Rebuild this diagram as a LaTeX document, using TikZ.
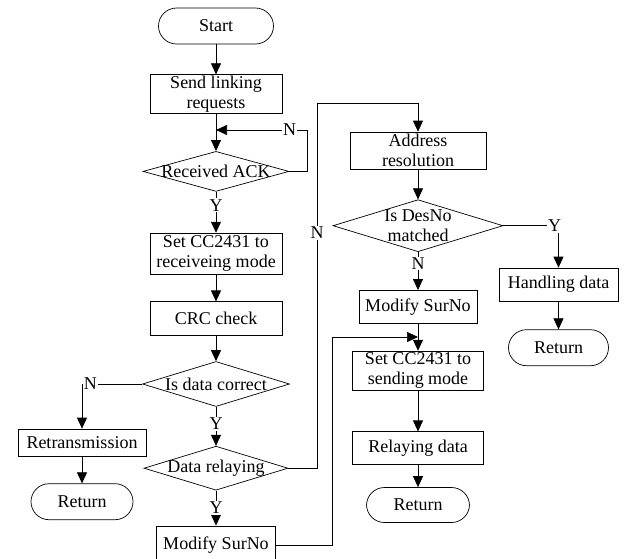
\documentclass[tikz,border=0pt]{standalone}
\usepackage{fontspec}
\setmainfont{Liberation Serif}
\usetikzlibrary{arrows.meta, positioning, shapes.geometric}

\begin{document}
\begin{tikzpicture}[
  x=1pt, y=-1pt,
  font=\fontsize{18}{20}\selectfont,
  proc/.style={draw, line width=0.7pt, minimum width=132pt, minimum height=38pt,
               align=center, inner sep=0pt},
  term/.style={proc, rounded corners=18pt, minimum width=102pt, minimum height=36pt},
  decide/.style={draw, diamond, line width=0.7pt, inner sep=0pt},
  lbl/.style={fill=white, inner sep=1pt},
  arr/.style={-{Triangle[length=11pt, width=10pt]}, line width=0.7pt},
  node distance=30pt
]
  \useasboundingbox (0,0) rectangle (625,558);

  % left / main column
  \node[term, minimum width=115pt] (start) at (216,26) {Start};
  \node[proc, minimum height=39pt, below=30pt of start] (link) {Send linking\\requests};
  \node[decide, minimum width=146pt, minimum height=40pt, below=37pt of link,
        label=center:Received ACK] (ack) {};
  \node[proc, minimum height=41pt, below=41pt of ack] (recv) {Set CC2431 to\\receiveing mode};
  \node[proc, minimum height=34pt, below=27pt of recv] (crc) {CRC check};
  \node[decide, minimum width=147pt, minimum height=45pt, below=25pt of crc,
        label=center:Is data correct] (correct) {};
  \node[decide, minimum width=144pt, minimum height=44pt, below=39pt of correct,
        label=center:Data relaying] (relay) {};
  \node[proc, minimum width=119pt, minimum height=38pt, below=35pt of relay] (modL) {Modify SurNo};

  \node[proc, minimum width=128pt, minimum height=27pt] (retrans) at (82,442.5) {Retransmission};
  \node[term, below=27pt of retrans] (retL) {Return};

  % middle column
  \node[proc, minimum width=136pt, minimum height=37pt] (addr) at (418,150.5) {Address\\resolution};
  \node[decide, minimum width=170pt, minimum height=52pt, below=30pt of addr,
        label={[align=center]center:Is DesNo\\matched}] (desno) {};
  \node[proc, minimum width=118pt, minimum height=33pt, below=38pt of desno] (modR) {Modify SurNo};
  \node[proc, minimum width=131pt, minimum height=39pt, below=27pt of modR] (sendm) {Set CC2431 to\\sending mode};
  \node[proc, minimum width=131pt, minimum height=33pt, below=41pt of sendm] (relaying) {Relaying data};
  \node[term, minimum width=103pt, minimum height=35pt, below=22pt of relaying] (retM) {Return};

  % right column
  \node[proc, minimum width=119pt, minimum height=33pt] (handle) at (558.5,284.5) {Handling data};
  \node[term, minimum width=100pt, below=28pt of handle] (retR) {Return};

  \coordinate (ackN) at (307,130);
  \coordinate (relN) at (317,103);
  \coordinate (modN) at (332,337);

  \draw[arr] (start) -- (link);
  \draw[arr] (link) -- (ack);
  \draw[arr] (ack.east) -| (ackN) -- node[lbl, pos=.19]{N} (link.south |- ackN);
  \draw[arr] (ack) -- node[lbl, pos=.33]{Y} (recv);
  \draw[arr] (recv) -- (crc);
  \draw[arr] (crc) -- (correct);
  \draw[arr] (correct.west) -- node[lbl, pos=.86]{N} (correct.west -| retrans.north) -- (retrans.north);
  \draw[arr] (retrans) -- (retL);
  \draw[arr] (correct) -- node[lbl, pos=.44]{Y} (relay);
  \draw[arr] (relay.east) -- (relay.east -| relN) -- node[lbl, pos=.645]{N} (relN) -| (addr.north);
  \draw[arr] (relay) -- node[lbl, pos=.5]{Y} (modL);
  \draw[arr] (modL.east) -| (modN) -- (modR.south |- modN);

  \draw[arr] (addr) -- (desno);
  \draw[arr] (desno.east) -- node[lbl, pos=.93]{Y} (desno.east -| handle.north) -- (handle.north);
  \draw[arr] (desno) -- node[lbl, pos=.3]{N} (modR);
  \draw[arr] (modR) -- (sendm);
  \draw[arr] (sendm) -- (relaying);
  \draw[arr] (relaying) -- (retM);
  \draw[arr] (handle) -- (retR);
\end{tikzpicture}
\end{document}
